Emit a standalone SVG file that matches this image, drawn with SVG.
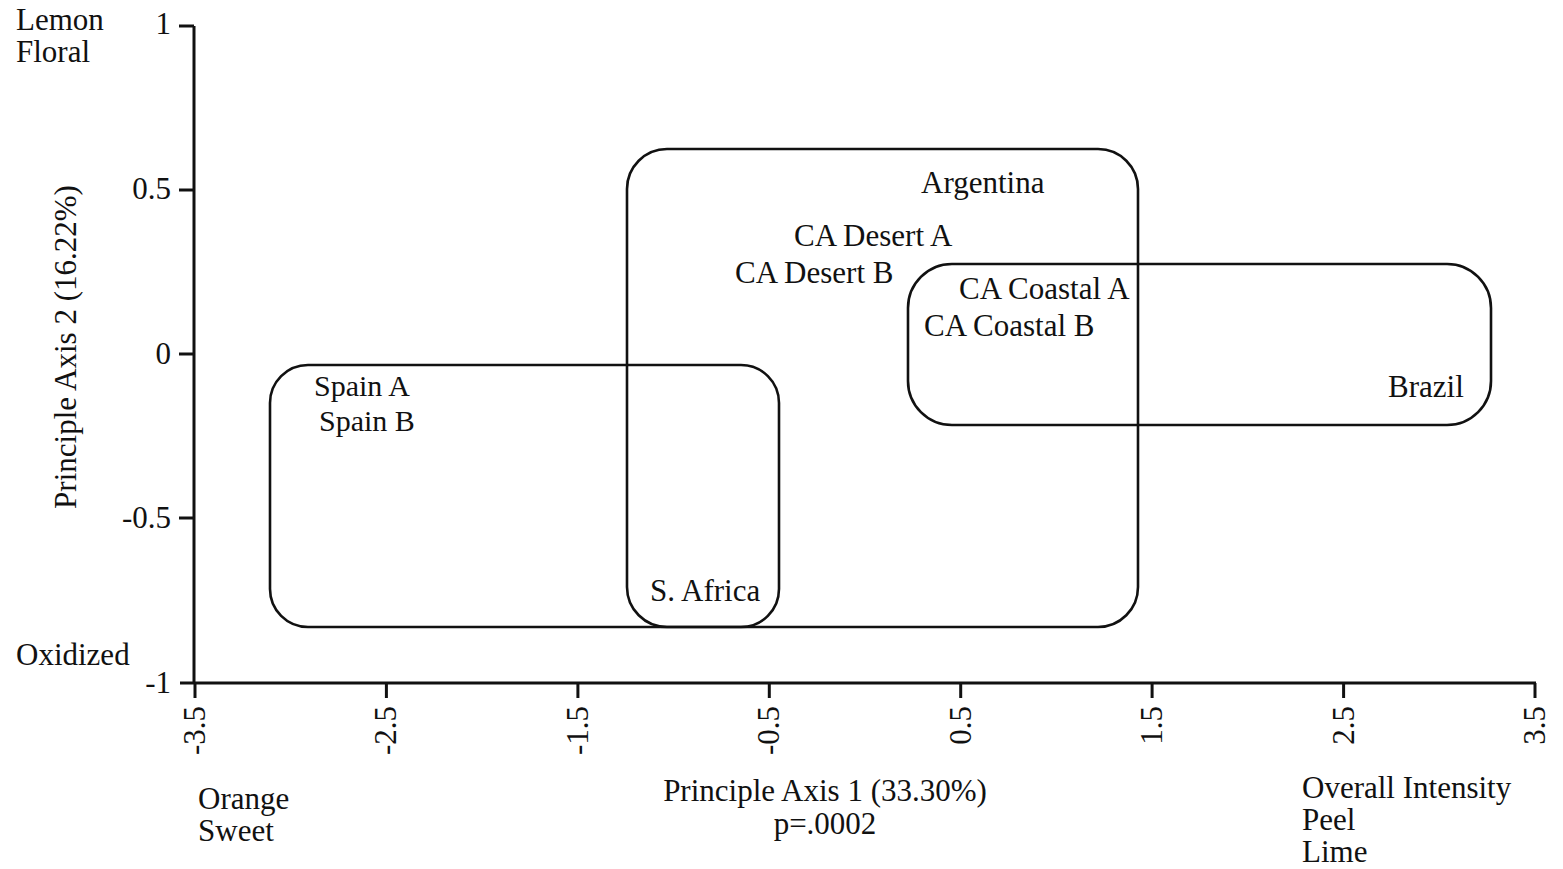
<svg xmlns="http://www.w3.org/2000/svg" width="1563" height="869" viewBox="0 0 1563 869">
<style>
text{font-family:"Liberation Serif","Times New Roman",serif;font-size:31px;fill:#111;}
.ax{stroke:#111;stroke-width:3;fill:none;}
.box{stroke:#111;stroke-width:2.6;fill:none;}
.r{text-anchor:end;}
.m{text-anchor:middle;}
.sm{font-size:30px;}
</style>
<rect width="1563" height="869" fill="#fff"/>
<g id="axes">
<line class="ax" x1="194" y1="26" x2="194" y2="684"/>
<line class="ax" x1="180" y1="683" x2="1536" y2="683"/>
<g id="yticks">
<line class="ax" x1="179" y1="26" x2="194" y2="26"/>
<line class="ax" x1="179" y1="190" x2="194" y2="190"/>
<line class="ax" x1="179" y1="354" x2="194" y2="354"/>
<line class="ax" x1="179" y1="518" x2="194" y2="518"/>
</g>
<g id="xticks">
<line class="ax" x1="195" y1="683" x2="195" y2="698"/>
<line class="ax" x1="386.4" y1="683" x2="386.4" y2="698"/>
<line class="ax" x1="577.9" y1="683" x2="577.9" y2="698"/>
<line class="ax" x1="769.3" y1="683" x2="769.3" y2="698"/>
<line class="ax" x1="960.7" y1="683" x2="960.7" y2="698"/>
<line class="ax" x1="1152.1" y1="683" x2="1152.1" y2="698"/>
<line class="ax" x1="1343.6" y1="683" x2="1343.6" y2="698"/>
<line class="ax" x1="1535" y1="683" x2="1535" y2="698"/>
</g>
<g id="ylabels">
<text class="r" x="171" y="34">1</text>
<text class="r" x="171" y="199">0.5</text>
<text class="r" x="171" y="364">0</text>
<text class="r" x="171" y="528">-0.5</text>
<text class="r" x="171" y="693">-1</text>
</g>
<g id="xlabels">
<text class="r" transform="translate(205,706) rotate(-90)">-3.5</text>
<text class="r" transform="translate(396.4,706) rotate(-90)">-2.5</text>
<text class="r" transform="translate(587.9,706) rotate(-90)">-1.5</text>
<text class="r" transform="translate(779.3,706) rotate(-90)">-0.5</text>
<text class="r" transform="translate(970.7,706) rotate(-90)">0.5</text>
<text class="r" transform="translate(1162.1,706) rotate(-90)">1.5</text>
<text class="r" transform="translate(1353.6,706) rotate(-90)">2.5</text>
<text class="r" transform="translate(1545,706) rotate(-90)">3.5</text>
</g>
<text class="m" transform="translate(76,347) rotate(-90)">Principle Axis 2 (16.22%)</text>
<text class="m" x="825" y="801">Principle Axis 1 (33.30%)</text>
<text class="m" x="825" y="834">p=.0002</text>
</g>
<g id="poles">
<text x="16" y="30">Lemon</text>
<text x="16" y="62">Floral</text>
<text x="16" y="665">Oxidized</text>
<text x="198" y="809">Orange</text>
<text x="198" y="841">Sweet</text>
<text x="1302" y="798">Overall Intensity</text>
<text x="1302" y="830">Peel</text>
<text x="1302" y="862">Lime</text>
</g>
<g id="group-argentina">
<rect class="box" x="627" y="149" width="511" height="478" rx="40" ry="40"/>
<text x="921" y="193">Argentina</text>
<text x="794" y="246">CA Desert A</text>
<text x="735" y="283">CA Desert B</text>
<text x="650" y="601">S. Africa</text>
</g>
<g id="group-spain">
<rect class="box" x="270" y="365" width="509" height="262" rx="38" ry="38"/>
<text class="sm" x="314" y="396">Spain A</text>
<text class="sm" x="319" y="431">Spain B</text>
</g>
<g id="group-brazil">
<rect class="box" x="908" y="264" width="583" height="161" rx="44" ry="44"/>
<text x="959" y="299">CA Coastal A</text>
<text x="924" y="336">CA Coastal B</text>
<text x="1388" y="397">Brazil</text>
</g>
<g id="connectors"></g>
</svg>
